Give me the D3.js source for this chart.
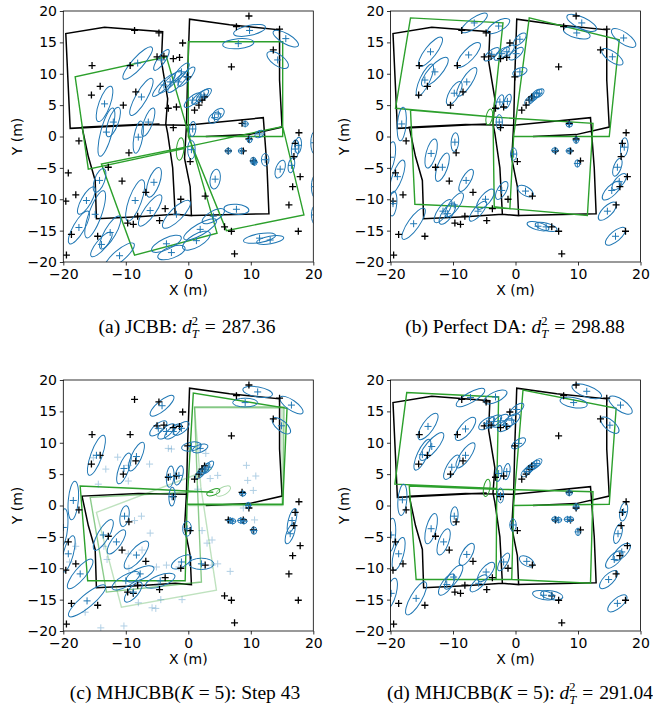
<!DOCTYPE html>
<html>
<head>
<meta charset="utf-8">
<script src="https://cdn.jsdelivr.net/npm/d3@7"></script>
<style>
body { margin: 0; background: #fff; }
svg text { font-family: "DejaVu Sans", sans-serif; }
.cap { font-family: "Liberation Serif", "Times New Roman", serif; font-size: 19.5px; }
</style>
</head>
<body>
<svg id="fig" width="653" height="709"></svg>
<script>
// ground truth landmarks (same in every panel)
var truthMarks = [[9.7,19.2],[-8.6,16.9],[-4.7,16.5],[7.7,17.5],[14.6,17.1],[-0.9,14.9],[13.6,13.8],[6.9,11.1],
  [-15.4,11.3],[-9.3,11.3],[-5.0,12.7],[-3.9,12.8],[-2.4,12.4],[-1.4,12.6],[-14.1,8.0],[-8.4,7.1],[-15.5,6.6],
  [-10.4,5.0],[-0.1,9.5],[-3.2,4.5],[-1.9,4.7],[1.0,4.2],[1.7,5.0],[2.2,5.8],[2.6,6.3],[-2.4,1.4],[8.6,2.1],
  [-17.5,-0.7],[9.7,-0.4],[17.7,0.6],[17.1,-1.1],[16.9,-3.2],[-9.5,-2.6],[6.4,-2.3],[8.8,-2.3],[10.4,-3.9],
  [0.3,-4.0],[-12.8,-4.9],[-19.2,-5.8],[17.9,-6.4],[-10.6,-7.1],[-6.8,-8.9],[-18.0,-9.3],[2.7,-9.5],[16.7,-8.0],
  [-1.2,-10.0],[-19.6,-10.3],[-3.7,-11.5],[16.1,-10.9],[-8.1,-12.7],[-9.7,-13.8],[-8.8,-14.0],[-4.6,-13.4],
  [-18.7,-15.6],[-14.5,-15.9],[5.8,-14.4],[6.9,-15.1],[17.6,-15.1],[-19.5,-18.9],[7.4,-18.7]];

// ground truth trajectory
var truePath = [[2.8,0],[9.7,0.3],[15.0,1.5],[14.6,9],[14.6,17.0],[6.6,17.8],[0.2,18.7],[-0.1,10],[-0.3,1.8],
  [-0.6,-3.5],[0.3,-8],[0.5,-12.6],[-2.1,-12.4],[-8,-12.8],[-14.7,-13.1],[-14.9,-7],[-16,-3.2],[-17,1.5],[-8,1.9],
  [-0.3,1.8],[5,2.3],[12.0,3.0],[12.6,-5],[12.9,-12.3],[0.5,-12.6],[-2.1,-12.4],[-2.5,-5],[-3.3,0.5],[-3.6,2.0],
  [-3.3,6],[-4.3,12],[-4.1,16.7],[-13.4,17.4],[-19.6,16.4],[-18.9,1.3],[-4.6,2.0]];

// estimated trajectories
var greenA = [[0,0],[15.1,0],[15.1,15.1],[0,15.1],[0,0],[6.1,-15.0],[18.5,-12.5],[15.1,1.6],[-0.5,-1.7],[-13.9,-4.4],
  [-8.6,-18.9],[4.6,-15.4],[-3.5,12.7],[-18.1,9.5],[-16.0,-5.2],[-0.5,-1.9]];
var greenB = [[-0.3,0],[15,0],[16.6,15.4],[2.2,18.9],[-0.3,0],[-0.9,-11.5],[-16.1,-10.8],[-16.8,4.2],[-3.5,3.1],
  [12.4,2.1],[11.5,-12.6],[-0.9,-11.5],[-3.4,-11.2],[-3.6,3.0],[-2.0,18.1],[-16.8,18.9],[-19.2,4.5],[-3.5,3.1]];
var greenC = [[-0.2,0.2],[15.1,0.2],[15.8,15.5],[0.8,17.9],[-0.2,0.2],[-0.5,-12.0],[-16.1,-12.0],[-17.3,3.1],
  [-8,2.7],[-0.3,2.3],[4.0,2.1]];
var greenC2 = [[0,0.1],[15.2,0.1],[15.3,15.7],[1.0,15.7],[1.5,2.0],[2.1,-12.2],[-13.1,-13.8],[-15.7,1.3],[1.6,2.2]];
var greenC3 = [[0,0],[15,0],[15,15.5],[1,15.6],[2,3],[4.5,-13.5],[-10.7,-16.2],[-14.7,-1.1],[3.8,5.9]];
var greenD = [[-0.3,0],[15,0.2],[16.1,15.5],[1.2,18.4],[-0.3,0],[-0.6,-11.8],[-15.9,-11.8],[-17,3.1],[-3.2,2.6],
  [12.4,2.2],[12,-12.4],[-0.6,-11.8],[-3.1,-11.8],[-3.0,2.7],[-2.7,17.3],[-17.4,18.0],[-19.3,3.4],[-3,2.7]];

// pose ellipses: [x, y, semi-major, semi-minor, angle deg]
var poseA = [[-1.3,-2.0,1.8,0.6,85]];
var poseB = [[-4.2,3.1,1.3,0.5,80]];
var poseC = [[4.0,2.1,1.1,0.45,20]];
var poseC2 = [[5.6,2.3,1.3,0.6,30]];
var poseD = [[-4.6,2.8,1.4,0.5,80]];

// estimated landmarks: [x, y, semi-major, semi-minor, angle deg]
var blueA = [[9.8,16.9,2.6,0.8,12],[8.0,14.8,2.5,0.8,5],[15.6,15.6,2.3,0.8,-30],[14.3,12.2,2.0,0.9,-35],
  [-8.1,11.7,3.4,0.9,48],[-4.3,12.2,2.0,0.6,55],[-3.9,8.2,2.5,0.6,45],[-2.9,8.7,2.5,0.6,45],[-1.6,8.7,2.3,0.6,45],
  [-0.3,9.5,2.0,0.6,50],[-1.1,10.3,1.8,0.6,50],[-13.4,5.2,3.0,0.9,70],[-7.5,6.3,3.4,0.9,60],[-13.1,0.7,4.0,0.9,75],
  [-12.0,2.3,2.5,0.8,70],[-6.4,2.3,2.4,0.7,70],[-8.0,-0.1,2.6,0.7,80],[0.7,5.8,1.7,0.6,40],[1.9,6.3,1.7,0.6,40],
  [2.5,6.6,1.5,0.6,40],[4.2,3.0,1.1,0.7,40],[4.8,3.6,1.1,0.7,40],[0.7,1.2,1.2,0.5,85],[0.5,-2.1,1.5,0.6,90],
  [9.1,2.0,0.5,0.4,0],[9.8,-0.5,0.5,0.4,90],[11.4,0.4,0.8,0.5,30],[6.4,-2.3,0.5,0.4,0],[8.5,-2.3,0.5,0.4,0],
  [10.4,-3.9,0.6,0.45,90],[10.6,-4.1,0.5,0.4,90],[12.3,-3.7,1.0,0.6,90],[14.7,-5.2,1.5,0.7,70],[17.1,-2.0,1.5,0.6,85],
  [17.6,-1.4,1.3,0.5,85],[16.5,-4.6,1.2,0.5,80],[20.2,-1.0,1.8,0.6,90],[20.3,-8.0,1.8,0.6,90],[20.3,-12.5,1.5,0.6,90],
  [4.3,-6.8,1.6,0.8,80],[7.7,-11.6,2.0,0.8,-5],[11.4,-16.2,2.6,0.7,10],[13.1,-16.5,2.2,0.6,10],[-14.2,-7.0,2.0,0.8,70],
  [-14.9,-12.4,4.0,1.0,70],[-12.5,-15.3,3.0,0.9,60],[-13.9,-17.2,2.5,0.8,50],[-8.5,-10.2,3.5,1.0,70],
  [-5.5,-7.3,2.5,0.9,70],[-6.1,-11.8,3.0,0.9,55],[-1.9,-12.4,3.0,1.0,45],[1.9,-14.8,3.0,0.9,30],[1.3,-16.6,2.5,1.0,30],
  [-3.5,-17.1,2.6,0.9,25],[-2.7,-18.5,2.3,0.9,20],[4.0,-12.7,2.0,0.8,30],[-16.3,-10.2,2.5,0.8,60],
  [-17.5,-14.5,3.0,0.9,60],[-11,-19,3,0.9,40]];
var blueB = [[-6.6,18.1,2.5,0.8,35],[-2.7,17.6,2.0,0.8,30],[10.6,18.1,2.6,0.9,-25],[9.8,16.5,2.2,0.8,-15],
  [17.3,15.7,2.3,0.9,-35],[15.5,12.7,2.0,0.8,-35],[-13.6,13.5,2.9,0.9,52],[-7.5,13.0,2.6,0.9,47],[-12.9,10.3,3.0,1.0,48],
  [-14.5,9.0,2.8,0.8,65],[-9.8,6.9,2.1,0.8,60],[-7.8,8.7,2.7,0.8,57],[-3.8,13.1,1.5,0.6,40],[-2.2,13.2,1.5,0.6,40],
  [-1.4,13.5,1.5,0.6,40],[0.1,13.2,1.4,0.6,40],[0.7,15.5,1.3,0.6,45],[0.7,10.3,1.2,0.6,20],[-2.5,5.5,1.2,0.5,70],
  [-1.3,5.6,1.2,0.5,70],[-2.6,2.3,1.2,0.5,90],[2.3,5.8,1.0,0.5,40],[2.9,6.3,1.0,0.5,40],[3.4,6.8,1.0,0.5,40],
  [3.8,6.9,0.9,0.5,40],[-18.2,2.0,2.7,0.7,85],[-9.7,-0.9,1.5,0.6,85],[-13.5,-2.7,2.4,0.8,75],[-11.7,-4.9,2.4,0.8,70],
  [-7.9,-7.0,2.0,0.7,60],[-18.9,-6.4,2.8,0.8,70],[-20.0,-3.3,2.5,0.7,80],[-19.6,-10.7,2.0,0.6,85],[-16.3,-13.9,3.0,0.9,55],
  [-11.6,-11.9,2.2,0.8,55],[-9.8,-10.9,2.3,0.8,55],[-10.9,-12.3,2.0,0.8,55],[-6.0,-11.9,2.0,0.7,50],[-4.8,-10.0,2.0,0.8,50],
  [-2.2,-8.6,1.6,0.7,60],[-0.3,-2.8,1.0,0.5,90],[1.6,-8.7,1.4,0.7,-30],[3.6,-14.3,1.8,0.6,-15],[4.9,-14.4,1.8,0.6,-15],
  [8.6,1.9,0.5,0.4,0],[9.7,-0.6,0.5,0.4,90],[6.3,-2.2,0.5,0.4,0],[8.6,-2.3,0.5,0.4,0],[9.9,-4.3,0.6,0.4,90],
  [17.4,-1.7,1.5,0.6,85],[16.3,-4.9,1.5,0.6,70],[15.4,-8.6,2.0,0.8,45],[16.6,-7.2,1.6,0.7,50],[14.7,-11.9,1.9,0.8,45],
  [16.0,-15.9,2.0,0.8,40]];
var blueC = [[11.1,18.1,2.4,0.8,-10],[9.1,16.4,2.0,0.7,0],[16.5,16.0,2.2,0.8,-35],[14.9,12.7,1.8,0.8,-40],
  [-4.2,15.9,2.4,0.8,40],[-4.8,12.3,1.7,0.7,40],[-3.5,11.8,1.7,0.7,40],[-2.4,11.8,1.7,0.7,40],[-1.1,12.3,1.5,0.7,40],
  [0.5,9.4,1.6,0.7,10],[1.9,9.1,1.3,0.6,20],[-14.7,8.0,3.4,0.9,70],[-10.3,5.9,2.6,0.8,70],[-8.3,7.8,2.5,0.8,65],
  [-2.9,4.6,1.7,0.6,85],[-1.5,4.8,1.6,0.6,75],[2.0,5.2,1.2,0.5,50],[2.6,5.8,1.2,0.5,50],[3.2,6.1,1.2,0.5,50],
  [-2.6,1.4,1.5,0.5,88],[-18.4,0.8,3.1,0.8,85],[8.7,1.9,0.5,0.4,0],[9.6,0.0,0.5,0.4,90],[6.7,-2.4,0.5,0.4,0],
  [7.1,-2.5,0.5,0.4,0],[8.4,-2.4,0.5,0.4,0],[8.9,-2.5,0.5,0.4,0],[10.5,-4.0,0.6,0.45,90],[16.6,-2.4,2.0,0.6,75],
  [16.3,-4.5,1.7,0.6,70],[-0.2,-3.7,1.2,0.7,90],[-10.2,-1.7,1.7,0.7,80],[-13.6,-4.7,2.8,0.9,60],[-11.5,-5.8,2.3,0.8,55],
  [-8.3,-7.9,2.8,1.0,50],[-19.2,-7.7,3.0,0.8,75],[-20.0,-3.5,3,0.7,85],[-16.2,-15.2,3.8,1.0,40],[-17.3,-10.9,3.0,0.9,50],
  [-10.0,-12.0,2.5,0.9,30],[-7.7,-10.9,2.4,0.9,25],[-4.5,-12.0,2.5,0.9,20],[-1.1,-9.0,1.8,0.8,30],[2.1,-9.3,2.0,0.9,0],
  [-8.8,-13.8,2.0,0.8,50]];
// faded landmarks of the other hypotheses in (c)
var fadedC = [[-3.2,9.1],[-2.7,9.0],[1.5,9.5],[2.8,8.3],[9.3,6.4],[10.8,4.7],[9.5,4.0],[10.4,2.4],[4.7,4.8],[3.5,4.3],
  [1.5,2.6],[-11.3,7.7],[-9.6,3.9],[-9.6,6.4],[-6.2,6.6],[-13.2,5.8],[-14.4,3.4],[-15.2,7.6],[-7.5,-1.7],[-6.1,-4.4],
  [-8.6,-2.4],[-13.5,-6.5],[-13,-8.6],[-9.6,-7.7],[-7.4,-7.1],[-5.1,-9.8],[-3.5,-9.5],[-1.5,-9.8],[3.8,-9.5],[4.7,-9.3],
  [6.7,-10.5],[2.2,-4.0],[3.8,-5.5],[10.6,-2.3],[-4.8,-12.7],[-4.4,-15],[-1.0,-15.0],[-5.8,-16.3],[-5.2,-16.4],
  [-10.3,-19.2],[-14,-19.5],[-16.5,-17],[-19,-9],[-18,-6.5],[-8,-15.5],[-9.5,-10],[3.0,-6.0],[8.8,-0.4]];
var blueD = [[-7.2,17.2,2.6,0.8,30],[-3.2,17.3,2.0,0.8,25],[11.4,18.2,2.5,0.9,-20],[9.3,16.4,2.2,0.8,-10],
  [16.8,16.0,2.2,0.9,-35],[15.1,12.8,1.8,0.8,-40],[-14.0,12.6,2.5,0.9,55],[-8.0,12.2,2.3,0.9,50],[-13.4,9.4,2.8,0.9,50],
  [-14.9,8.1,2.7,0.8,65],[-10.2,6.1,2.2,0.8,60],[-8.0,8.0,2.4,0.8,55],[-4.6,13.1,1.5,0.7,35],[-3.5,13.4,1.5,0.7,35],
  [-2.4,13.5,1.5,0.7,35],[-1.6,12.8,1.5,0.7,35],[-0.6,13.6,1.5,0.7,35],[0.2,15.3,1.4,0.6,40],[0.5,9.9,1.3,0.6,35],
  [-2.7,5.1,1.3,0.5,80],[-1.4,5.4,1.3,0.5,80],[-2.4,1.6,1.2,0.5,90],[1.8,5.4,1.1,0.5,40],[2.3,5.9,1.1,0.5,40],
  [3.0,6.4,1.1,0.5,40],[3.4,6.7,1.0,0.5,40],[-18.1,0.9,2.5,0.7,85],[-9.8,-1.7,1.5,0.6,85],[-13.5,-3.7,2.5,0.8,75],
  [-11.5,-5.8,2.2,0.8,70],[-7.8,-7.8,2.0,0.8,60],[-18.7,-7.7,2.7,0.8,75],[-19.9,-4.7,2.7,0.7,85],[-19.9,-14.0,2.5,0.8,75],
  [-15.9,-14.8,3.0,0.9,60],[-11.0,-12.6,2.0,0.8,55],[-9.9,-11.4,2.3,0.8,55],[-5.9,-12.4,1.8,0.7,45],[-4.7,-10.6,1.9,0.8,50],
  [-1.9,-9.0,1.6,0.6,60],[-0.4,-3.1,1.0,0.5,90],[1.8,-8.9,1.3,0.7,-30],[4.5,-14.3,1.8,0.7,-10],[5.8,-14.3,1.8,0.7,-10],
  [8.6,2.0,0.5,0.4,0],[9.7,-0.2,0.5,0.4,90],[6.3,-2.2,0.5,0.4,0],[6.9,-2.3,0.5,0.4,0],[8.3,-2.2,0.5,0.4,0],
  [8.8,-2.2,0.5,0.4,0],[10.0,-4.2,0.6,0.4,90],[17.3,-1.0,1.5,0.6,80],[16.4,-4.5,1.6,0.6,75],[15.8,-8.6,1.8,0.8,45],
  [17.0,-7.4,1.8,0.8,45],[14.9,-11.8,1.9,0.8,45],[16.3,-15.6,1.9,0.8,40]];

var xTicks = [-20, -10, 0, 10, 20];
var yTicks = [-20, -15, -10, -5, 0, 5, 10, 15, 20];

var panels = [
  {left: 63.3, top: 11, blue: blueA, faded: [], path: truePath,
   greens: [{pts: greenA, op: 1}], poses: [{e: poseA, op: 1}],
   cap: ["(a) JCBB: ", "d", "287.36"], capX: 187, capY: 333},
  {left: 390.5, top: 11, blue: blueB, faded: [], path: truePath,
   greens: [{pts: greenB, op: 1}], poses: [{e: poseB, op: 1}],
   cap: ["(b) Perfect DA: ", "d", "298.88"], capX: 515, capY: 333},
  {left: 63.3, top: 380, blue: blueC, faded: fadedC, path: truePath.slice(0, 20),
   greens: [{pts: greenC3, op: 0.3}, {pts: greenC2, op: 0.55}, {pts: greenC, op: 1}],
   poses: [{e: poseC2, op: 0.4}, {e: poseC, op: 1}],
   cap: ["(c) MHJCBB(", "K", " = 5): Step 43"], capX: 185, capY: 699},
  {left: 390.5, top: 380, blue: blueD, faded: [], path: truePath,
   greens: [{pts: greenD, op: 1}], poses: [{e: poseD, op: 1}],
   cap: ["(d) MHJCBB(", "K", " = 5): ", "d", "291.04"], capX: 520, capY: 699}
];

var W = 250, H = 251;
var blue = "#1f77b4", green = "#2ca02c";
var svg = d3.select("#fig");
var plus = "M-3.5,0H3.5M0,-3.5V3.5";
var minus = function(d) { return d < 0 ? "\u2212" + (-d) : d; };

panels.forEach(function(p, i) {
  var x = d3.scaleLinear().domain([-20, 20]).range([0, W]);
  var y = d3.scaleLinear().domain([-20, 20]).range([H, 0]);
  var g = svg.append("g").attr("transform", "translate(" + p.left + "," + p.top + ")");

  svg.append("clipPath").attr("id", "clip" + i)
    .append("rect").attr("width", W).attr("height", H);
  var plot = g.append("g").attr("clip-path", "url(#clip" + i + ")");

  var line = d3.line().x(function(d) { return x(d[0]); }).y(function(d) { return y(d[1]); });

  function ellipses(data, color, op) {
    plot.append("g").selectAll("ellipse").data(data).enter().append("ellipse")
      .attr("rx", function(d) { return x(d[2]) - x(0); })
      .attr("ry", function(d) { return y(0) - y(d[3]); })
      .attr("transform", function(d) { return "translate(" + x(d[0]) + "," + y(d[1]) + ") rotate(" + (-d[4]) + ")"; })
      .attr("fill", "none").attr("stroke", color).attr("stroke-width", 1).attr("opacity", op);
  }

  // trajectories
  plot.append("path").datum(p.path).attr("d", line)
    .attr("fill", "none").attr("stroke", "#000").attr("stroke-width", 1.5);
  p.greens.forEach(function(gr) {
    plot.append("path").datum(gr.pts).attr("d", line)
      .attr("fill", "none").attr("stroke", green).attr("stroke-width", 1.4).attr("opacity", gr.op);
  });
  p.poses.forEach(function(ps) { ellipses(ps.e, green, ps.op); });

  // landmarks
  ellipses(p.blue, blue, 1);
  plot.append("g").selectAll("path").data(p.faded).enter().append("path")
    .attr("d", plus).attr("transform", function(d) { return "translate(" + x(d[0]) + "," + y(d[1]) + ")"; })
    .attr("stroke", blue).attr("stroke-width", 1).attr("opacity", 0.35);
  plot.append("g").selectAll("path").data(truthMarks).enter().append("path")
    .attr("d", plus).attr("transform", function(d) { return "translate(" + x(d[0]) + "," + y(d[1]) + ")"; })
    .attr("stroke", "#000").attr("stroke-width", 1.3);
  plot.append("g").selectAll("path").data(p.blue).enter().append("path")
    .attr("d", plus).attr("transform", function(d) { return "translate(" + x(d[0]) + "," + y(d[1]) + ")"; })
    .attr("stroke", blue).attr("stroke-width", 1);

  // axes
  var ax = g.append("g").attr("transform", "translate(0," + H + ")")
    .call(d3.axisBottom(x).tickValues(xTicks).tickSize(3.5).tickPadding(4).tickFormat(minus));
  var ay = g.append("g")
    .call(d3.axisLeft(y).tickValues(yTicks).tickSize(3.5).tickPadding(2.8).tickFormat(minus));
  [ax, ay].forEach(function(a) {
    a.select(".domain").remove();
    a.selectAll("line").attr("stroke", "#000").attr("stroke-width", 0.8);
    a.selectAll("text").attr("font-size", 14).attr("fill", "#000").attr("font-family", "DejaVu Sans");
  });
  g.append("rect").attr("width", W).attr("height", H)
    .attr("fill", "none").attr("stroke", "#000").attr("stroke-width", 0.8);

  g.append("text").attr("x", W / 2).attr("y", H + 33).attr("text-anchor", "middle")
    .attr("font-size", 14).text("X (m)");
  g.append("text").attr("transform", "translate(-46," + (H / 2) + ") rotate(-90)")
    .attr("text-anchor", "middle").attr("dy", "0.35em").attr("font-size", 14).text("Y (m)");

  // caption
  var t = svg.append("text").attr("class", "cap").attr("x", p.capX).attr("y", p.capY).attr("text-anchor", "middle");
  function dT(val) {
    t.append("tspan").attr("font-style", "italic").text("d");
    t.append("tspan").attr("font-size", 12.5).attr("dy", -8.5).text("2");
    t.append("tspan").attr("font-size", 12.5).attr("font-style", "italic").attr("dx", -6.2).attr("dy", 13.5).text("T");
    t.append("tspan").attr("dx", 6).attr("dy", -5).text("=");
    t.append("tspan").attr("dx", 6).text(val);
  }
  t.append("tspan").text(p.cap[0]);
  if (i < 2) {
    dT(p.cap[2]);
  } else {
    t.append("tspan").attr("font-style", "italic").text(p.cap[1]);
    t.append("tspan").text(p.cap[2]);
    if (p.cap.length > 3) dT(p.cap[4]);
  }
});
</script>
</body>
</html>
